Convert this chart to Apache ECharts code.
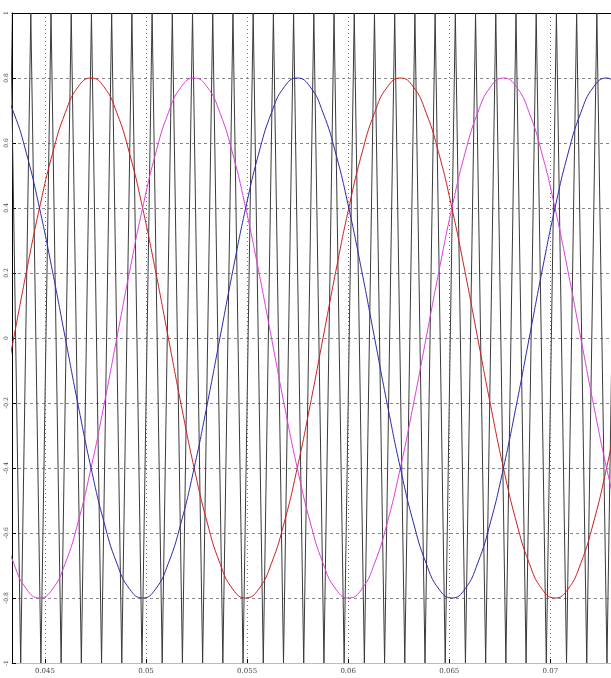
<!DOCTYPE html>
<html>
<head>
<meta charset="utf-8">
<script src="https://cdn.jsdelivr.net/npm/echarts@6/dist/echarts.min.js"></script>
<style>html,body{margin:0;padding:0;background:#fff}#c{width:611px;height:678px}</style>
</head>
<body>
<div id="c"></div>
<script>
// sample times of the three modulating waves (s)
const waveT = [0.04218,0.0428175,0.043455,0.0440925,0.04473,0.0453675,0.046005,0.0466425,0.04728,0.0479175,
  0.048555,0.0491925,0.04983,0.0504675,0.051105,0.0517425,0.05238,0.0530175,0.053655,0.0542925,
  0.05493,0.0555675,0.056205,0.0568425,0.05748,0.0581175,0.058755,0.0593925,0.06003,0.0606675,
  0.061305,0.0619425,0.06258,0.0632175,0.063855,0.0644925,0.06513,0.0657675,0.066405,0.0670425,
  0.06768,0.0683175,0.068955,0.0695925,0.07023,0.0708675,0.071505,0.0721425,0.07278,0.0734175];
const redV = [-0.4,-0.207,0,0.207,0.4,0.566,0.693,0.773,0.8,0.773,0.693,0.566,0.4,0.207,0,-0.207,-0.4,-0.566,-0.693,-0.773,-0.8,-0.773,-0.693,-0.566,
  -0.4,-0.207,0,0.207,0.4,0.566,0.693,0.773,0.8,0.773,0.693,0.566,0.4,0.207,0,-0.207,-0.4,-0.566,-0.693,-0.773,-0.8,-0.773,-0.693,-0.566,
  -0.4,-0.207];
const magentaV = [-0.4,-0.566,-0.693,-0.773,-0.8,-0.773,-0.693,-0.566,-0.4,-0.207,0,0.207,0.4,0.566,0.693,0.773,0.8,0.773,0.693,0.566,0.4,0.207,0,-0.207,
  -0.4,-0.566,-0.693,-0.773,-0.8,-0.773,-0.693,-0.566,-0.4,-0.207,0,0.207,0.4,0.566,0.693,0.773,0.8,0.773,0.693,0.566,0.4,0.207,0,-0.207,
  -0.4,-0.566];
const blueV = [0.8,0.773,0.693,0.566,0.4,0.207,0,-0.207,-0.4,-0.566,-0.693,-0.773,-0.8,-0.773,-0.693,-0.566,-0.4,-0.207,0,0.207,0.4,0.566,0.693,0.773,
  0.8,0.773,0.693,0.566,0.4,0.207,0,-0.207,-0.4,-0.566,-0.693,-0.773,-0.8,-0.773,-0.693,-0.566,-0.4,-0.207,0,0.207,0.4,0.566,0.693,0.773,
  0.8,0.773];
// triangular carrier vertices
const carrierT = [0.0428,0.0433,0.0438,0.0443,0.0448,0.0453,0.0458,0.0463,0.0468,0.0473,0.0478,0.0483,0.0488,0.0493,0.0498,0.0503,
  0.0508,0.0513,0.0518,0.0523,0.0528,0.0533,0.0538,0.0543,0.0548,0.0553,0.0558,0.0563,0.0568,0.0573,0.0578,0.0583,
  0.0588,0.0593,0.0598,0.0603,0.0608,0.0613,0.0618,0.0623,0.0628,0.0633,0.0638,0.0643,0.0648,0.0653,0.0658,0.0663,
  0.0668,0.0673,0.0678,0.0683,0.0688,0.0693,0.0698,0.0703,0.0708,0.0713,0.0718,0.0723,0.0728,0.0733];
const carrierV = [-1,1,-1,1,-1,1,-1,1,-1,1,-1,1,-1,1,-1,1,-1,1,-1,1,-1,1,-1,1,-1,1,-1,1,-1,1,-1,1,
  -1,1,-1,1,-1,1,-1,1,-1,1,-1,1,-1,1,-1,1,-1,1,-1,1,-1,1,-1,1,-1,1,-1,1,-1,1];
const xTicks = [0.045,0.05,0.055,0.06,0.065,0.07];
const xTickLabels = ['0.045','0.05','0.055','0.06','0.065','0.07'];

const zip = (a,b) => a.map((v,i)=>[v,b[i]]);
const chart = echarts.init(document.getElementById('c'), null, {renderer:'canvas'});
chart.setOption({
  animation:false,
  backgroundColor:'#fff',
  grid:{left:12, right:-2, top:13, bottom:15, show:false},
  xAxis:[{type:'value', min:0.04337, max:0.073, position:'bottom',
    axisLine:{show:true, onZero:false, lineStyle:{color:'#bbb'}},
    axisTick:{show:true, inside:true, length:4, customValues:xTicks, lineStyle:{color:'#000'}},
    axisLabel:{customValues:xTicks, formatter:v=>{const i=xTicks.findIndex(x=>Math.abs(x-v)<1e-9);return i>=0?xTickLabels[i]:'';},
      fontSize:7, color:'#444', margin:5, fontFamily:'DejaVu Serif'},
    splitLine:{show:true, lineStyle:{color:'#777', type:[1,3], width:1}}},
   {type:'value', min:0.04337, max:0.073, position:'top',
    axisLine:{show:true, onZero:false, lineStyle:{color:'#000'}},
    axisTick:{show:false}, axisLabel:{show:false}, splitLine:{show:false}}],
  yAxis:{type:'value', min:-1, max:1, interval:0.2,
    axisLine:{show:true, onZero:false, lineStyle:{color:'#000'}},
    axisTick:{show:true, inside:true, length:4, lineStyle:{color:'#000'}},
    axisLabel:{fontSize:6, color:'#444', rotate:90, margin:3, fontFamily:'DejaVu Serif',
      formatter:v=>String(Math.round(v*10)/10)},
    splitLine:{show:true, lineStyle:{color:'#888', type:[3,3], width:1}}},
  series:[
    {type:'line', data:zip(carrierT,carrierV), symbol:'none', lineStyle:{color:'#3a3a3a', width:1}, z:2},
    {type:'line', data:zip(waveT,redV), symbol:'none', smooth:0.5, lineStyle:{color:'#cc1f1f', width:1}, z:3},
    {type:'line', data:zip(waveT,magentaV), symbol:'none', smooth:0.5, lineStyle:{color:'#dd3ddd', width:1}, z:3},
    {type:'line', data:zip(waveT,blueV), symbol:'none', smooth:0.5, lineStyle:{color:'#2a2aa8', width:1}, z:3}
  ]
});
</script>
</body>
</html>
